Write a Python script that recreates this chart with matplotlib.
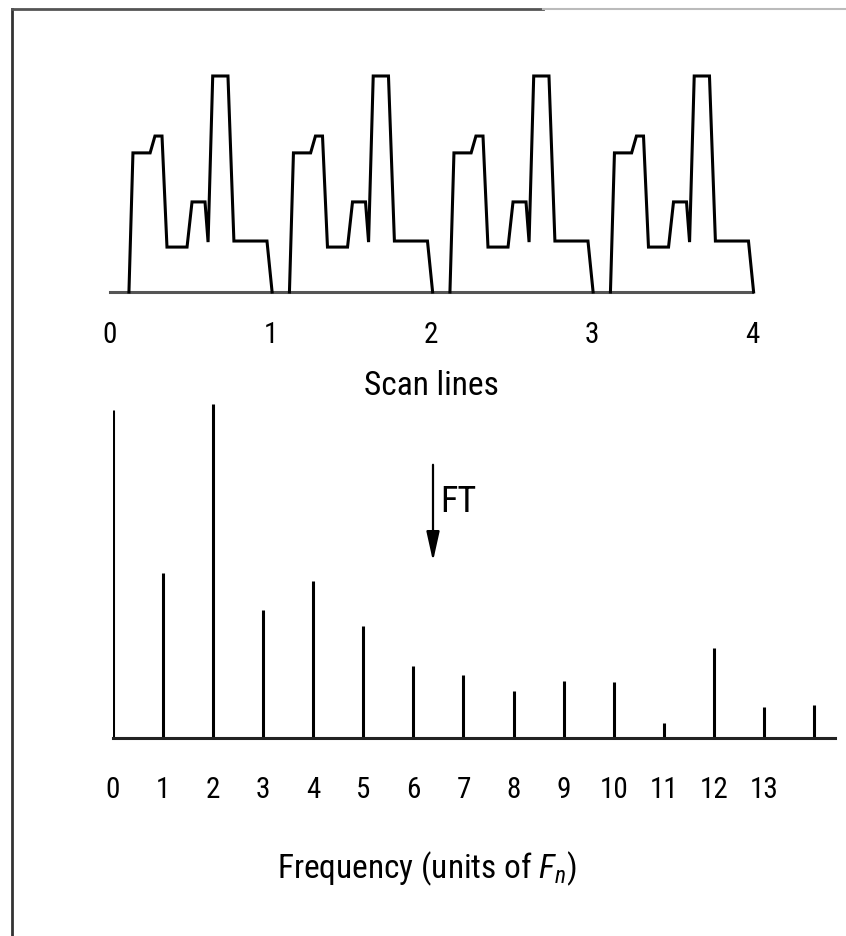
import matplotlib
matplotlib.use("Agg")
import matplotlib.pyplot as plt
from matplotlib.lines import Line2D
from matplotlib.patches import FancyArrowPatch

plt.rcParams['font.family'] = ['Roboto Condensed', 'DejaVu Sans']
plt.rcParams['mathtext.fontset'] = 'custom'
plt.rcParams['mathtext.it'] = 'Roboto Condensed:italic'
plt.rcParams['mathtext.rm'] = 'Roboto Condensed'

# ---- data ----
# one scan-line period of the video waveform (x within the line, relative level)
period_x = [0.118, 0.143, 0.25, 0.28, 0.324, 0.355, 0.48, 0.511, 0.592, 0.611,
            0.64, 0.735, 0.772, 0.978, 1.01]
period_y = [0.0, 0.644, 0.644, 0.722, 0.722, 0.208, 0.208, 0.417, 0.417, 0.231,
            1.0, 1.0, 0.236, 0.236, 0.0]
line_offsets = [0, 1, 2, 3]
scan_ticks = [0, 1, 2, 3, 4]

freq = list(range(15))
amplitude = [328, 165, 334, 128, 157, 112, 72, 63, 47, 57, 56, 15, 90, 31, 33]
freq_ticks = list(range(14))

W, H = 846, 937
fig = plt.figure(figsize=(W / 100, H / 100), dpi=100)

def px_axes(left, right, top, bottom):
    return fig.add_axes([left / W, 1 - bottom / H, (right - left) / W, (bottom - top) / H])

# ---- top panel ----
ax1 = px_axes(110, 752, 77, 293)
for off in line_offsets:
    xs = [off + x for x in period_x]
    ax1.plot(xs, period_y, color='black', lw=2.2, clip_on=False, solid_joinstyle='miter')
ax1.plot([0, 4], [0, 0], color='#555555', lw=2.2, clip_on=False, zorder=0)
ax1.set_xlim(0, 4)
ax1.set_ylim(0, 1)
ax1.set_xticks(scan_ticks)
ax1.set_xticklabels([str(t) for t in scan_ticks])
ax1.set_yticks([])
for s in ax1.spines.values():
    s.set_visible(False)
ax1.tick_params(axis='x', length=0, pad=20, labelsize=21)
ax1.set_xlabel('Scan lines', fontsize=24, labelpad=15)

# ---- bottom panel ----
ax2 = px_axes(113, 835, 399, 739)
ax2.vlines(freq, 0, amplitude, color='black', lw=2.2)
ax2.plot([0, 14.42], [0, 0], color='#222222', lw=2.2, clip_on=False)
ax2.set_xlim(0, 14.42)
ax2.set_ylim(0, 340)
ax2.set_xticks(freq_ticks)
ax2.set_xticklabels([str(t) for t in freq_ticks])
ax2.set_yticks([])
for s in ax2.spines.values():
    s.set_visible(False)
ax2.tick_params(axis='x', length=0, pad=27, labelsize=21)
ax2.text(6.27, -130, r'Frequency (units of $F_n$)', fontsize=24,
         ha='center', va='center', clip_on=False)

# ---- FT arrow between the panels ----
fig.add_artist(FancyArrowPatch(
    (433 / W, 1 - 463 / H), (433 / W, 1 - 565 / H), transform=fig.transFigure,
    arrowstyle='-|>,head_length=18,head_width=4', color='black', lw=1.6,
    mutation_scale=1))
fig.text(440 / W, 1 - 502 / H, 'FT', fontsize=26, ha='left', va='center')

# ---- scan frame lines ----
fig.add_artist(Line2D([12 / W, 12 / W], [1 - 10 / H, 0], transform=fig.transFigure,
                      color='#333333', lw=2))
fig.add_artist(Line2D([12 / W, 543 / W], [1 - 10 / H, 1 - 10 / H], transform=fig.transFigure,
                      color='#555555', lw=2))
fig.add_artist(Line2D([543 / W, 1], [1 - 10 / H, 1 - 10 / H], transform=fig.transFigure,
                      color='#bbbbbb', lw=1.5))

fig.savefig('out.png', dpi=100)
